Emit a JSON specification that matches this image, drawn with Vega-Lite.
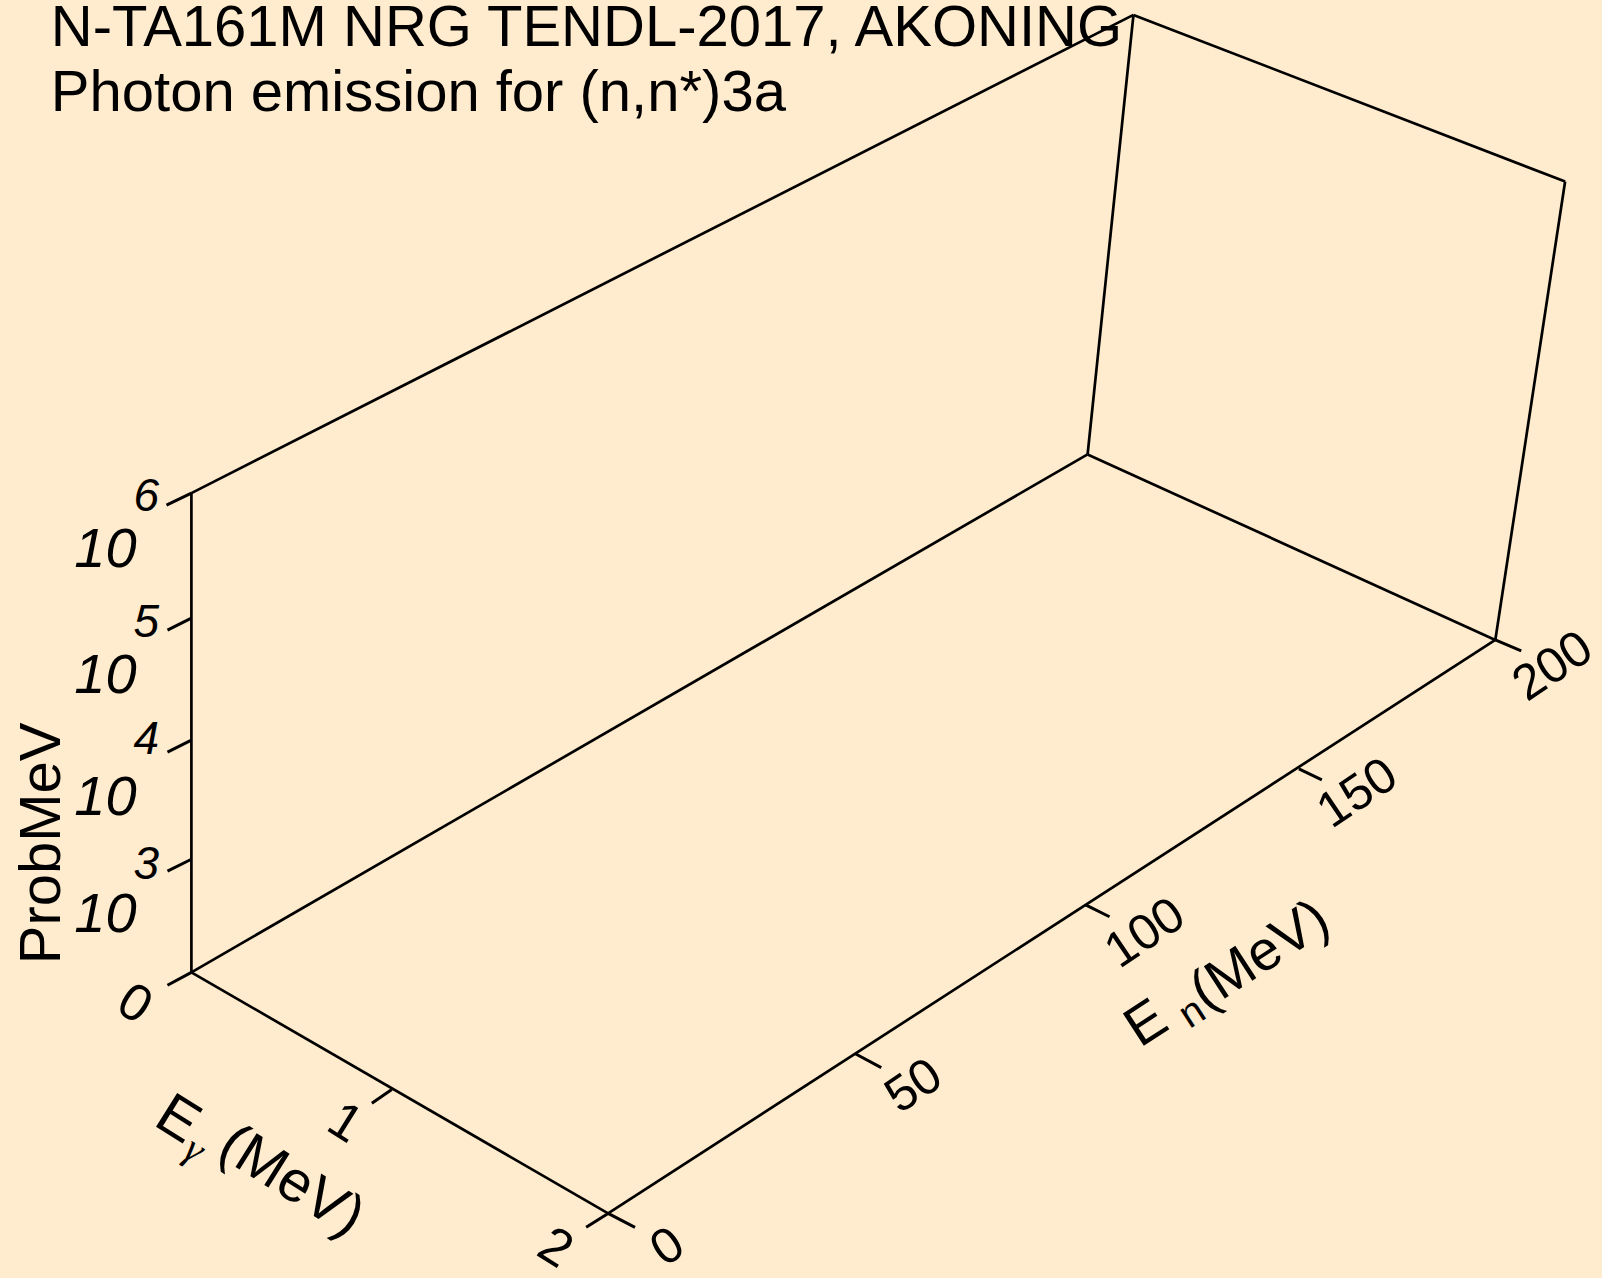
{
  "$schema": "https://vega.github.io/schema/vega-lite/v6.json",
  "width": 1602,
  "height": 1278,
  "padding": 0,
  "autosize": {"type": "fit", "contains": "padding"},
  "background": "#FFEBCD",
  "config": {"view": {"stroke": null}},
  "datasets": {
    "edges": [
      {"u": 192, "v": 979, "u2": 192, "v2": 496},
      {"u": 192, "v": 979, "u2": 610, "v2": 1222},
      {"u": 610, "v": 1222, "u2": 1500, "v2": 644},
      {"u": 192, "v": 979, "u2": 1091, "v2": 457},
      {"u": 1091, "v": 457, "u2": 1500, "v2": 644},
      {"u": 1091, "v": 457, "u2": 1137, "v2": 14},
      {"u": 1500, "v": 644, "u2": 1570, "v2": 182},
      {"u": 192, "v": 496, "u2": 1137, "v2": 14},
      {"u": 1137, "v": 14, "u2": 1570, "v2": 182}
    ],
    "ticks": [
      {"u": 192, "v": 496, "u2": 167, "v2": 508},
      {"u": 192, "v": 622, "u2": 168, "v2": 634},
      {"u": 192, "v": 745, "u2": 168, "v2": 757},
      {"u": 192, "v": 865, "u2": 168, "v2": 877},
      {"u": 192, "v": 979, "u2": 168, "v2": 992},
      {"u": 393, "v": 1097, "u2": 373, "v2": 1111},
      {"u": 610, "v": 1222, "u2": 588, "v2": 1236},
      {"u": 610, "v": 1222, "u2": 637, "v2": 1236},
      {"u": 858, "v": 1061, "u2": 884, "v2": 1075},
      {"u": 1089, "v": 911, "u2": 1113, "v2": 923},
      {"u": 1303, "v": 774, "u2": 1326, "v2": 785},
      {"u": 1500, "v": 644, "u2": 1526, "v2": 655}
    ],
    "title": [
      {"u": 51, "v": 45, "label": "N-TA161M NRG TENDL-2017, AKONING"},
      {"u": 51, "v": 111, "label": "Photon emission for (n,n*)3a"}
    ],
    "zbase": [
      {"u": 137, "v": 570, "label": "10"},
      {"u": 137, "v": 697, "label": "10"},
      {"u": 137, "v": 820, "label": "10"},
      {"u": 137, "v": 938, "label": "10"}
    ],
    "zexp": [
      {"u": 134, "v": 514, "label": "6"},
      {"u": 134, "v": 641, "label": "5"},
      {"u": 134, "v": 759, "label": "4"},
      {"u": 134, "v": 885, "label": "3"}
    ],
    "ztitle": [{"u": 60, "v": 849, "label": "ProbMeV"}],
    "egticks": [
      {"u": 135, "v": 1011, "label": "0"},
      {"u": 346, "v": 1131, "label": "1"},
      {"u": 557, "v": 1257, "label": "2"}
    ],
    "egtitle": [
      {"u": 178, "v": 1128, "label": "E"},
      {"u": 292, "v": 1190, "label": "(MeV)"}
    ],
    "egsub": [{"u": 195, "v": 1158, "label": "γ"}],
    "enticks": [
      {"u": 670, "v": 1256, "label": "0"},
      {"u": 917, "v": 1094, "label": "50"},
      {"u": 1149, "v": 940, "label": "100"},
      {"u": 1362, "v": 799, "label": "150"},
      {"u": 1558, "v": 671, "label": "200"}
    ],
    "entitle": [
      {"u": 1150, "v": 1031, "label": "E"},
      {"u": 1264, "v": 962, "label": "(MeV)"}
    ],
    "ensub": [{"u": 1196, "v": 1020, "label": "n"}]
  },
  "encoding": {
    "x": {"field": "u", "type": "quantitative", "scale": {"domain": [0, 1602], "nice": false, "zero": false}, "axis": null},
    "y": {"field": "v", "type": "quantitative", "scale": {"domain": [0, 1278], "nice": false, "zero": false, "reverse": true}, "axis": null}
  },
  "layer": [
    {
      "data": {"name": "edges"},
      "mark": {"type": "rule", "color": "#000000", "strokeWidth": 2.7},
      "encoding": {"x2": {"field": "u2"}, "y2": {"field": "v2"}}
    },
    {
      "data": {"name": "ticks"},
      "mark": {"type": "rule", "color": "#000000", "strokeWidth": 3},
      "encoding": {"x2": {"field": "u2"}, "y2": {"field": "v2"}}
    },
    {
      "data": {"name": "title"},
      "mark": {"type": "text", "font": "Liberation Sans", "fontSize": 58, "align": "left", "baseline": "alphabetic", "color": "#000000"},
      "encoding": {"text": {"field": "label"}}
    },
    {
      "data": {"name": "zbase"},
      "mark": {"type": "text", "font": "Liberation Sans", "fontSize": 56, "fontStyle": "italic", "align": "right", "baseline": "alphabetic", "color": "#000000"},
      "encoding": {"text": {"field": "label"}}
    },
    {
      "data": {"name": "zexp"},
      "mark": {"type": "text", "font": "Liberation Sans", "fontSize": 46, "fontStyle": "italic", "align": "left", "baseline": "alphabetic", "color": "#000000"},
      "encoding": {"text": {"field": "label"}}
    },
    {
      "data": {"name": "ztitle"},
      "mark": {"type": "text", "font": "Liberation Sans", "fontSize": 58, "angle": -90, "align": "center", "baseline": "alphabetic", "color": "#000000"},
      "encoding": {"text": {"field": "label"}}
    },
    {
      "data": {"name": "egticks"},
      "mark": {"type": "text", "font": "Liberation Sans", "fontSize": 52, "angle": 32, "align": "center", "baseline": "middle", "color": "#000000"},
      "encoding": {"text": {"field": "label"}}
    },
    {
      "data": {"name": "egtitle"},
      "mark": {"type": "text", "font": "Liberation Sans", "fontSize": 58, "angle": 32, "align": "center", "baseline": "middle", "color": "#000000"},
      "encoding": {"text": {"field": "label"}}
    },
    {
      "data": {"name": "egsub"},
      "mark": {"type": "text", "font": "Liberation Serif", "fontSize": 40, "fontStyle": "italic", "angle": 32, "align": "center", "baseline": "middle", "color": "#000000"},
      "encoding": {"text": {"field": "label"}}
    },
    {
      "data": {"name": "enticks"},
      "mark": {"type": "text", "font": "Liberation Sans", "fontSize": 50, "angle": -34, "align": "center", "baseline": "middle", "color": "#000000"},
      "encoding": {"text": {"field": "label"}}
    },
    {
      "data": {"name": "entitle"},
      "mark": {"type": "text", "font": "Liberation Sans", "fontSize": 56, "angle": -33, "align": "center", "baseline": "middle", "color": "#000000"},
      "encoding": {"text": {"field": "label"}}
    },
    {
      "data": {"name": "ensub"},
      "mark": {"type": "text", "font": "Liberation Sans", "fontSize": 40, "angle": -33, "align": "center", "baseline": "middle", "color": "#000000"},
      "encoding": {"text": {"field": "label"}}
    }
  ]
}
